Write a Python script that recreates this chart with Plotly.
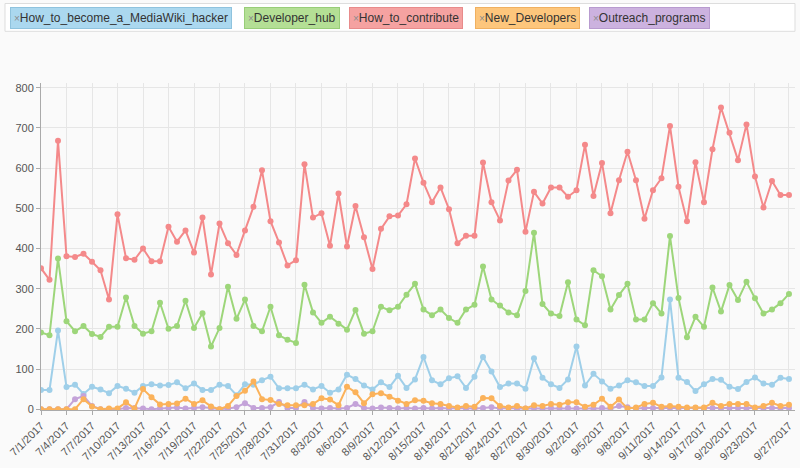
import pandas as pd
import plotly.graph_objects as go

# daily page views, 7/1/2017 - 9/27/2017
dates = pd.date_range("2017-07-01", "2017-09-27", freq="D")

hacker = [48, 48, 196, 55, 61, 38, 56, 49, 40, 58, 51, 41, 58, 62, 59, 60, 67, 52, 64, 48,
          48, 61, 58, 35, 62, 61, 72, 81, 52, 52, 52,
          61, 49, 58, 41, 49, 86, 75, 59, 49, 67, 55, 83, 53, 74, 130, 72, 62, 77, 82, 53,
          81, 130, 94, 55, 64, 64, 51, 127, 78, 62, 53,
          74, 156, 59, 88, 69, 51, 59, 72, 67, 58, 58, 79, 273, 78, 68, 45, 62, 75, 73, 56,
          50, 68, 79, 64, 61, 78, 75]

dev_hub = [191, 184, 375, 219, 194, 207, 187, 180, 205, 205, 278, 207, 188, 194, 265, 200, 207, 270, 202, 239,
           156, 202, 305, 225, 273, 207, 194, 255, 184, 173, 165,
           310, 241, 215, 230, 213, 198, 247, 188, 194, 255, 246, 255, 285, 312, 248, 234, 248, 227, 215, 248,
           260, 355, 273, 258, 241, 234, 294, 439, 262, 238, 232,
           316, 223, 209, 346, 331, 248, 284, 312, 223, 223, 264, 238, 431, 277, 179, 230, 205, 303, 243, 309,
           272, 317, 276, 238, 248, 264, 287]

contribute = [351, 322, 668, 381, 379, 387, 367, 346, 273, 485, 376, 372, 400, 368, 368, 454, 417, 445, 390, 477,
              335, 462, 413, 384, 445, 504, 595, 468, 415, 358, 371,
              610, 477, 488, 407, 537, 405, 506, 428, 349, 449, 480, 482, 510, 624, 564, 515, 552, 498, 413, 432,
              432, 614, 515, 470, 569, 596, 442, 541, 512, 552, 552,
              529, 545, 658, 531, 613, 488, 570, 641, 570, 474, 545, 575, 705, 554, 468, 615, 515, 647, 751, 688,
              620, 709, 579, 502, 568, 533, 533]

new_devs = [0, 0, 0, 0, 0, 25, 7, 0, 2, 2, 17, 2, 50, 30, 12, 13, 14, 26, 13, 22,
            7, 0, 8, 33, 46, 69, 25, 23, 13, 10, 10,
            10, 13, 27, 24, 10, 56, 42, 15, 37, 40, 31, 21, 13, 22, 21, 15, 13, 8, 4, 8,
            6, 28, 27, 8, 4, 8, 2, 10, 8, 13, 11,
            17, 17, 6, 11, 26, 6, 24, 2, 4, 13, 16, 6, 8, 6, 4, 4, 4, 16, 8, 13,
            13, 13, 4, 8, 16, 8, 11]

outreach = [0, 0, 0, 0, 25, 33, 8, 0, 0, 0, 3, 3, 2, 0, 2, 3, 4, 2, 3, 5,
            3, 0, 2, 5, 15, 3, 3, 5, 18, 3, 3,
            18, 3, 2, 3, 2, 3, 13, 3, 2, 4, 3, 2, 3, 2, 3, 2, 3, 2, 3, 2,
            2, 3, 5, 2, 3, 2, 2, 3, 2, 3, 3,
            3, 2, 3, 2, 3, 2, 8, 5, 2, 3, 3, 2, 3, 2, 2, 3, 2, 3, 2, 3,
            3, 2, 3, 2, 3, 2, 3]

names = ["How_to_become_a_MediaWiki_hacker", "Developer_hub", "How_to_contribute",
         "New_Developers", "Outreach_programs"]
line_colors = ["#9fcfe9", "#9dd67a", "#f4898a", "#fbb25a", "#c4a3d9"]
pill_colors = ["#abd8ef", "#b4df95", "#f5a2a1", "#fdc67c", "#ccb2df"]
pill_borders = ["#8fc3de", "#98cd78", "#e88b8b", "#f0b060", "#b89bcf"]
pill_left = [10, 244, 349, 475, 589]  # px

values = [hacker, dev_hub, contribute, new_devs, outreach]
draw_order = [0, 1, 2, 4, 3]

# every 3rd day, last one snapped to the final date
tick_dates = list(dates[::3][:-1]) + [dates[-1]]

ML, MR, MT, MB = 41, 5, 83, 56
W, H = 800, 468
PW = W - ML - MR
PH = H - MT - MB


def px(x):
    return (x - ML) / PW


def py(y):
    return (H - MB - y) / PH


fig = go.Figure()
for i in draw_order:
    fig.add_trace(go.Scatter(x=dates, y=values[i], name=names[i], mode="lines+markers",
                             line=dict(color=line_colors[i], width=2),
                             marker=dict(color=line_colors[i], size=6),
                             showlegend=False))

# legend box
fig.add_shape(type="rect", xref="paper", yref="paper", x0=px(5), x1=px(795), y0=py(31), y1=py(3),
              line=dict(color="#dddddd", width=1), fillcolor="white", layer="below")
for i in range(5):
    fig.add_annotation(xref="paper", yref="paper", x=px(pill_left[i]), y=py(17.5),
                       xanchor="left", yanchor="middle", showarrow=False,
                       text='<span style="color:#8c8c8c;font-size:10px">×</span>' + names[i],
                       font=dict(family="Liberation Sans, Arial", size=12, color="#333333"),
                       bgcolor=pill_colors[i], bordercolor=pill_borders[i], borderwidth=1, borderpad=3)

fig.update_layout(
    width=W, height=H,
    margin=dict(l=ML, r=MR, t=MT, b=MB),
    paper_bgcolor="#fafafa", plot_bgcolor="#fafafa",
    font=dict(family="Liberation Sans, Arial", size=11, color="#555555"),
)
fig.update_xaxes(range=[pd.Timestamp("2017-07-01"), pd.Timestamp("2017-09-27 17:00")],
                 tickmode="array", tickvals=tick_dates,
                 ticktext=[f"{d.month}/{d.day}/{d.year}" for d in tick_dates],
                 tickangle=-45, showgrid=True, gridcolor="#e6e6e6", showline=True,
                 linecolor="#aaaaaa", ticks="outside", ticklen=4, tickcolor="#aaaaaa", zeroline=False)
fig.update_yaxes(range=[-2, 812], tick0=0, dtick=100, showgrid=True, gridcolor="#e6e6e6",
                 showline=True, linecolor="#aaaaaa", ticks="outside", ticklen=4, tickcolor="#aaaaaa",
                 zeroline=False)

fig.write_html("out.html", config={"displayModeBar": False},
               post_script="document.body.style.margin='0';")
